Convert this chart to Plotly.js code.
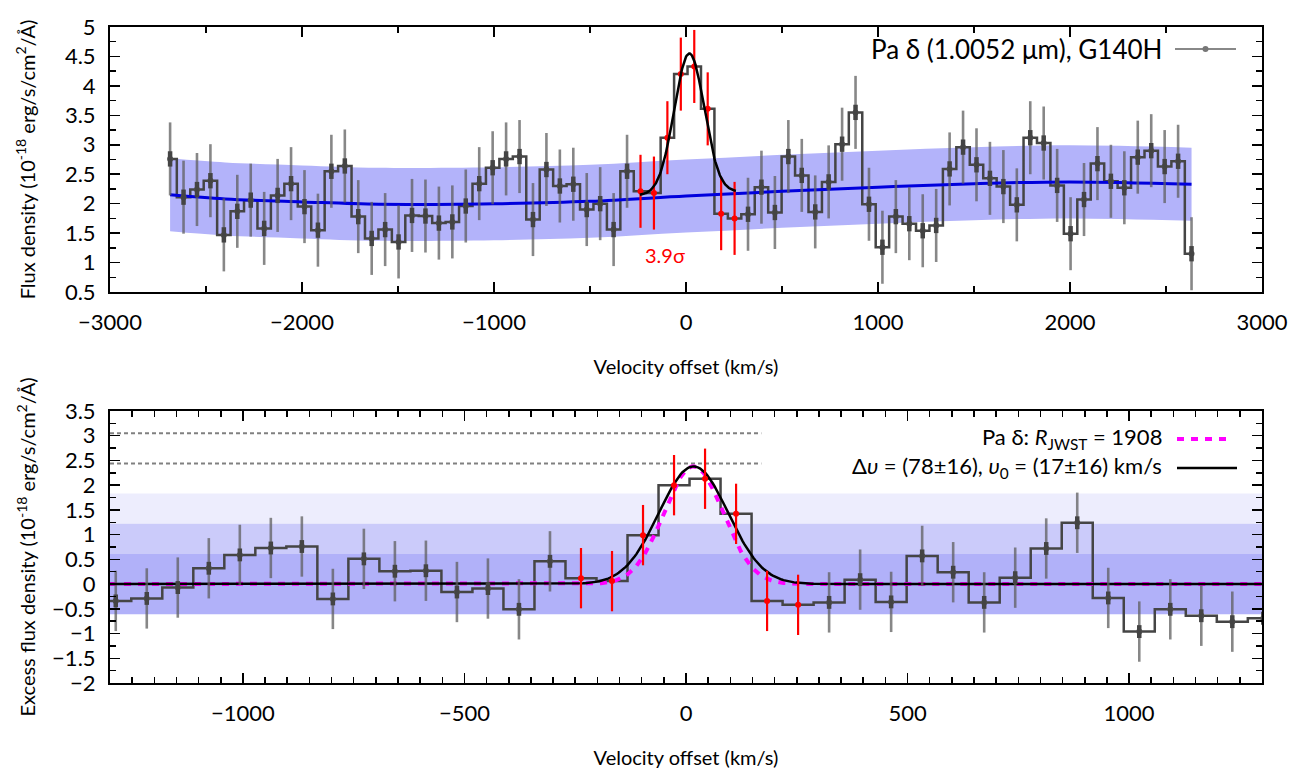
<!DOCTYPE html>
<html><head><meta charset="utf-8">
<script src="https://cdn.plot.ly/plotly-3.0.1.min.js"></script>
<style>html,body{margin:0;padding:0;background:#fff}#chart{width:1307px;height:777px}</style>
</head><body><div id="chart"></div>
<script>
// ---------- data ----------
const velocity = [-2687,-2617,-2547,-2477,-2407,-2337,-2267,-2197,-2127,-2057,-1987,-1917,-1847,-1777,-1707,-1637,-1567,-1497,-1427,-1357,
  -1287,-1217,-1147,-1077,-1007,-937,-867,-797,-727,-657,-587,-517,-447,-377,-307,-237,-167,-97,-27,43,113,183,253,323,393,463,533,603,
  673,743,813,883,953,1023,1093,1163,1233,1303,1373,1443,1513,1583,1653,1723,1793,1863,1933,2003,2073,2143,2213,2283,2353,2423,2493,2563,2633];
const fluxDensity = [2.76,2.11,2.24,2.39,1.47,1.87,2.06,1.58,2.14,2.34,1.95,1.55,2.55,2.64,1.78,1.41,1.56,1.35,1.80,1.79,
  1.67,1.69,1.96,2.34,2.61,2.76,2.80,1.73,2.58,2.30,2.33,1.90,2.00,1.56,2.55,2.21,2.18,3.12,4.20,4.33,3.61,1.83,1.75,1.82,2.28,1.85,2.80,2.48,
  1.86,2.37,3.01,3.55,1.99,1.26,1.78,1.66,1.54,1.63,2.59,2.96,2.66,2.43,2.29,1.98,3.12,3.03,2.31,1.49,2.07,2.68,2.38,2.27,2.79,2.90,2.63,2.72,1.15];
const fluxError = 0.62;

const continuumVelocity = [-2687,-2400,-2000,-1600,-1000,-500,0,500,1000,1500,2000,2633];
const continuumFlux     = [2.15,2.08,2.03,1.99,2.00,2.04,2.13,2.21,2.28,2.34,2.37,2.33];
const continuumHalfWidth = 0.62;

const excessVelocity = [-1357,-1287,-1217,-1147,-1077,-1007,-937,-867,-797,-727,-657,-587,-517,-447,-377,-307,-237,-167,-97,-27,
  43,113,183,253,323,393,463,533,603,673,743,813,883,953,1023,1093,1163,1233,1303];
const excessFlux = [-0.20,-0.34,-0.29,-0.07,0.32,0.59,0.73,0.76,-0.30,0.51,0.26,0.27,-0.16,-0.09,-0.51,0.46,0.12,0.06,0.99,2.00,
  2.13,1.42,-0.34,-0.42,-0.37,0.09,-0.36,0.57,0.24,-0.37,0.13,0.72,1.24,-0.28,-0.96,-0.51,-0.64,-0.76,-0.69];
const excessError = 0.61;

const lineWindow = [-240, 260];          // highlighted (red) bins
const fitAmplitude = 2.38, fitCenter = 17, fitSigma = 78;
const resolvingPower = 1908;
const fitBaseline = [2.14, 2.20];         // continuum level at the line window edges
const noiseSigma = 0.61;
const significanceLevels = [4, 5];
const significanceLineEnd = 170;
const detectionText = '3.9σ';
const detectionPos = [-109, 1.12];

// ---------- derived ----------
const instSigma = 299792.458 / resolvingPower / 2.35482;
const gauss = (v, s) => fitAmplitude * Math.exp(-0.5 * Math.pow((v - fitCenter) / s, 2));
const inLine = v => v >= lineWindow[0] && v <= lineWindow[1];

const topGrayIdx = velocity.map((v,i)=>i).filter(i=>!inLine(velocity[i]));
const topRedIdx = velocity.map((v,i)=>i).filter(i=>inLine(velocity[i]));
const botGrayIdx = excessVelocity.map((v,i)=>i).filter(i=>!inLine(excessVelocity[i]));
const botRedIdx = excessVelocity.map((v,i)=>i).filter(i=>inLine(excessVelocity[i]));
const pick = (arr, idx) => idx.map(i => arr[i]);

const topModelV = []; for (let v = lineWindow[0]; v <= lineWindow[1]; v += 4) topModelV.push(v);
const topModelF = topModelV.map(v => fitBaseline[0] + (fitBaseline[1]-fitBaseline[0])*(v-lineWindow[0])/(lineWindow[1]-lineWindow[0]) + gauss(v, fitSigma));
const botModelV = []; for (let v = -1300; v <= 1300; v += 4) botModelV.push(v);

const GRAY_ERR = 'rgba(95,95,95,0.75)';
const STEP = '#454545';
const FONT = 'Lato, "Open Sans", sans-serif';

function pointTraces(xs, ys, err, xa, ya, red) {
  const t = [];
  t.push({x: xs, y: ys, xaxis: xa, yaxis: ya, mode: 'markers', type: 'scatter', showlegend: false, hoverinfo: 'skip',
    marker: {size: 6, color: red ? '#ff0000' : '#505050'},
    error_y: {type: 'constant', value: err, thickness: red ? 2.2 : 2.6, width: 0, color: red ? '#ff0000' : GRAY_ERR}});
  if (!red) t.push({x: xs, y: ys, xaxis: xa, yaxis: ya, mode: 'markers', type: 'scatter', showlegend: false, hoverinfo: 'skip',
    marker: {size: 1, color: '#444'},
    error_y: {type: 'constant', value: 0.13, thickness: 4.5, width: 0, color: '#444'}});
  return t;
}

const traces = [
  // top panel
  {x: continuumVelocity, y: continuumFlux.map(f => f - continuumHalfWidth), xaxis: 'x', yaxis: 'y', mode: 'lines',
   line: {width: 0, shape: 'spline'}, showlegend: false, hoverinfo: 'skip'},
  {x: continuumVelocity, y: continuumFlux.map(f => f + continuumHalfWidth), xaxis: 'x', yaxis: 'y', mode: 'lines',
   line: {width: 0, shape: 'spline'}, fill: 'tonexty', fillcolor: '#b3b3fa', showlegend: false, hoverinfo: 'skip'},
  {x: velocity, y: fluxDensity, xaxis: 'x', yaxis: 'y', mode: 'lines', line: {shape: 'hvh', color: STEP, width: 2.5},
   showlegend: false, hoverinfo: 'skip'},
  {x: continuumVelocity, y: continuumFlux, xaxis: 'x', yaxis: 'y', mode: 'lines', line: {shape: 'spline', color: '#0000dd', width: 3},
   showlegend: false, hoverinfo: 'skip'},
  ...pointTraces(pick(velocity, topGrayIdx), pick(fluxDensity, topGrayIdx), fluxError, 'x', 'y', false),
  ...pointTraces(pick(velocity, topRedIdx), pick(fluxDensity, topRedIdx), fluxError, 'x', 'y', true),
  {x: topModelV, y: topModelF, xaxis: 'x', yaxis: 'y', mode: 'lines', line: {color: '#000', width: 2.5},
   showlegend: false, hoverinfo: 'skip'},

  // bottom panel
  ...significanceLevels.map(n => ({x: [-1300, significanceLineEnd], y: [n*noiseSigma, n*noiseSigma], xaxis: 'x2', yaxis: 'y2',
   mode: 'lines', line: {color: '#808080', width: 2, dash: '4px,3px'}, showlegend: false, hoverinfo: 'skip'})),
  {x: excessVelocity, y: excessFlux, xaxis: 'x2', yaxis: 'y2', mode: 'lines', line: {shape: 'hvh', color: STEP, width: 2.5},
   showlegend: false, hoverinfo: 'skip'},
  {x: botModelV, y: botModelV.map(v => gauss(v, instSigma)), xaxis: 'x2', yaxis: 'y2', mode: 'lines',
   line: {color: '#ff00ff', width: 4, dash: '7px,7px'}, showlegend: false, hoverinfo: 'skip'},
  {x: botModelV, y: botModelV.map(v => gauss(v, fitSigma)), xaxis: 'x2', yaxis: 'y2', mode: 'lines',
   line: {color: '#000', width: 2.5}, showlegend: false, hoverinfo: 'skip'},
  ...pointTraces(pick(excessVelocity, botGrayIdx), pick(excessFlux, botGrayIdx), excessError, 'x2', 'y2', false),
  ...pointTraces(pick(excessVelocity, botRedIdx), pick(excessFlux, botRedIdx), excessError, 'x2', 'y2', true),
];

// plot area geometry (pixels) for legend decorations
const L = 110, R = 1262, T = 27, B = 683;
const px = x => (x - L) / (R - L);
const py = y => (B - y) / (B - T);

const axisCommon = {
  ticks: 'inside', ticklen: 10, tickwidth: 1.5, tickcolor: '#000', mirror: 'allticks', showline: true,
  linewidth: 2, linecolor: '#000', showgrid: false, zeroline: false, tickfont: {size: 22, color: '#000', family: FONT},
};
const minorCommon = {ticklen: 6, tickwidth: 1.5, tickcolor: '#000', ticks: 'inside', showgrid: false};

const layout = {
  width: 1307, height: 777,
  margin: {l: L, r: 1307 - R, t: T, b: 777 - B},
  paper_bgcolor: '#fff', plot_bgcolor: '#fff',
  font: {family: FONT, color: '#000'},
  showlegend: false,
  xaxis: Object.assign({}, axisCommon, {domain: [0, 1], anchor: 'y', range: [-3000, 3000], tickmode: 'linear', tick0: 0, dtick: 1000,
    minor: Object.assign({dtick: 500}, minorCommon),
    ticklabelstandoff: 10,
    title: {text: 'Velocity offset (km/s)', font: {size: 20}, standoff: 26}}),
  yaxis: Object.assign({}, axisCommon, {domain: [py(292), 1], anchor: 'x', range: [0.5, 5], tickmode: 'linear', tick0: 0, dtick: 0.5,
    minor: Object.assign({dtick: 0.25}, minorCommon),
    ticklabelstandoff: 8,
    title: {text: 'Flux density (10<sup>-18</sup> erg/s/cm<sup>2</sup>/Å)', font: {size: 20}, standoff: 24}}),
  xaxis2: Object.assign({}, axisCommon, {domain: [0, 1], anchor: 'y2', range: [-1300, 1300], tickmode: 'linear', tick0: 0, dtick: 500,
    minor: Object.assign({dtick: 50}, minorCommon),
    ticklabelstandoff: 10,
    title: {text: 'Velocity offset (km/s)', font: {size: 20}, standoff: 26}}),
  yaxis2: Object.assign({}, axisCommon, {domain: [0, py(411)], anchor: 'x2', range: [-2, 3.5], tickmode: 'linear', tick0: 0, dtick: 0.5,
    minor: Object.assign({dtick: 0.25}, minorCommon),
    ticklabelstandoff: 8,
    title: {text: 'Excess flux density (10<sup>-18</sup> erg/s/cm<sup>2</sup>/Å)', font: {size: 20}, standoff: 11}}),
  shapes: [
    {type: 'rect', xref: 'paper', yref: 'y2', x0: 0, x1: 1, y0: 2*noiseSigma, y1: 3*noiseSigma, fillcolor: '#ededfd', line: {width: 0}, layer: 'below'},
    {type: 'rect', xref: 'paper', yref: 'y2', x0: 0, x1: 1, y0: noiseSigma, y1: 2*noiseSigma, fillcolor: '#cbcbfa', line: {width: 0}, layer: 'below'},
    {type: 'rect', xref: 'paper', yref: 'y2', x0: 0, x1: 1, y0: -noiseSigma, y1: noiseSigma, fillcolor: '#b1b1f9', line: {width: 0}, layer: 'below'},
    // legend samples
    {type: 'line', xref: 'paper', yref: 'paper', x0: px(1175), x1: px(1236), y0: py(49), y1: py(49), line: {color: '#888', width: 2}},
    {type: 'circle', xref: 'paper', yref: 'paper', xsizemode: 'pixel', ysizemode: 'pixel', xanchor: px(1205.5), yanchor: py(49),
     x0: -3, x1: 3, y0: -3, y1: 3, fillcolor: '#777', line: {width: 0}},
    {type: 'line', xref: 'paper', yref: 'paper', x0: px(1177), x1: px(1232), y0: py(439), y1: py(439), line: {color: '#ff00ff', width: 4, dash: '7px,7px'}},
    {type: 'line', xref: 'paper', yref: 'paper', x0: px(1177), x1: px(1237), y0: py(468), y1: py(468), line: {color: '#000', width: 2.5}},
  ],
  annotations: [
    {xref: 'paper', yref: 'paper', x: px(1164), y: py(49), xanchor: 'right', yanchor: 'middle', showarrow: false,
     text: 'Pa δ (1.0052 μm), G140H', font: {size: 26, color: '#000'}},
    {xref: 'paper', yref: 'paper', x: px(1164), y: py(438), xanchor: 'right', yanchor: 'middle', showarrow: false,
     text: 'Pa δ: <i>R</i><sub>JWST</sub> = 1908', font: {size: 22, color: '#000'}},
    {xref: 'paper', yref: 'paper', x: px(1164), y: py(467), xanchor: 'right', yanchor: 'middle', showarrow: false,
     text: 'Δ<i>υ</i> = (78±16), <i>υ</i><sub>0</sub> = (17±16) km/s', font: {size: 22, color: '#000'}},
    {xref: 'x', yref: 'y', x: detectionPos[0], y: detectionPos[1], showarrow: false, text: detectionText,
     font: {size: 20, color: '#ff0000'}},
  ],
};

Plotly.newPlot('chart', traces, layout, {displayModeBar: false, staticPlot: true});
</script>
</body></html>
